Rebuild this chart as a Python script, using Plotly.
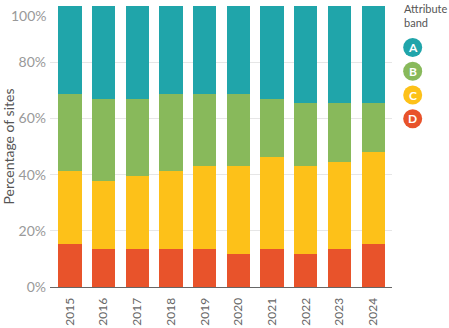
import plotly.graph_objects as go

years = ["2015", "2016", "2017", "2018", "2019", "2020", "2021", "2022", "2023", "2024"]

# Share of sites in each attribute band (%), stacked from D at the bottom to A at the top
band_d = [15.2, 13.5, 13.5, 13.5, 13.5, 11.7, 13.5, 11.7, 13.5, 15.2]
band_c = [26.1, 24.2, 26.0, 27.8, 29.5, 31.3, 32.9, 31.3, 31.1, 33.0]
band_b = [27.5, 29.2, 27.4, 27.5, 25.8, 25.8, 20.5, 22.4, 20.8, 17.2]
band_a = [31.2, 33.1, 33.1, 31.2, 31.2, 31.2, 33.1, 34.6, 34.6, 34.6]

tick_vals = [0, 20, 40, 60, 80, 100]
tick_text = ["0%", "20%", "40%", "60%", "80%", "100%"]

bands = ["D", "C", "B", "A"]
colors = {"A": "#20A5AA", "B": "#88B95B", "C": "#FDC119", "D": "#E8532B"}
values = {"A": band_a, "B": band_b, "C": band_c, "D": band_d}

font_family = "Lato, 'Open Sans', sans-serif"

fig = go.Figure()
for b in bands:
    fig.add_trace(go.Bar(
        x=years, y=values[b], name=b,
        marker=dict(color=colors[b], line=dict(width=0)),
        showlegend=False,
        hovertemplate="%{x}: %{y:.1f}%<extra>" + b + "</extra>",
    ))

# Legend: title plus lettered circles on the right
legend_order = ["A", "B", "C", "D"]
shapes = []
annotations = [dict(
    xref="paper", yref="paper", x=1.03, y=1.02, xanchor="left", yanchor="top",
    text="Attribute<br>band", showarrow=False, align="left",
    font=dict(family=font_family, size=11, color="#555555"),
)]
for i, b in enumerate(legend_order):
    yc = 0.852 - i * 0.0845
    shapes.append(dict(
        type="circle", xref="paper", yref="paper",
        xsizemode="pixel", ysizemode="pixel",
        xanchor=1.0605, yanchor=yc,
        x0=-9.5, x1=9.5, y0=-9.5, y1=9.5,
        fillcolor=colors[b], line=dict(width=0),
    ))
    annotations.append(dict(
        xref="paper", yref="paper", x=1.0605, y=yc,
        text="<b>" + b + "</b>", showarrow=False,
        xanchor="center", yanchor="middle",
        font=dict(family=font_family, size=12, color="white"),
    ))

# The top tick label sits just under its gridline so it stays inside the figure
annotations.append(dict(
    xref="paper", yref="y", x=0, y=tick_vals[-1],
    xanchor="right", yanchor="top", xshift=-1, yshift=1,
    text=tick_text[-1], showarrow=False,
    font=dict(family=font_family, size=14, color="#999999"),
))

fig.update_layout(
    barmode="stack",
    bargap=0.31,
    width=449, height=328,
    margin=dict(l=50, r=57, t=6, b=41),
    plot_bgcolor="white", paper_bgcolor="white",
    font=dict(family=font_family),
    shapes=shapes,
    annotations=annotations,
    xaxis=dict(
        range=[-0.59, 9.56],
        tickangle=-90,
        tickfont=dict(family=font_family, size=12, color="#666666"),
        showline=True, linecolor="#666666", linewidth=1,
        ticks="", showgrid=False, ticklabelstandoff=5,
        automargin=False,
    ),
    yaxis=dict(
        range=[0, 100],
        tickvals=tick_vals,
        ticktext=tick_text[:-1] + [""],
        tickfont=dict(family=font_family, size=14, color="#999999"),
        showgrid=True, gridcolor="#E6E6E6", gridwidth=1,
        zeroline=False, ticks="", ticklabelstandoff=3,
        automargin=False,
        title=dict(text="Percentage of sites", standoff=4,
                   font=dict(family=font_family, size=14, color="#555555")),
    ),
)

fig.write_html("out.html")
